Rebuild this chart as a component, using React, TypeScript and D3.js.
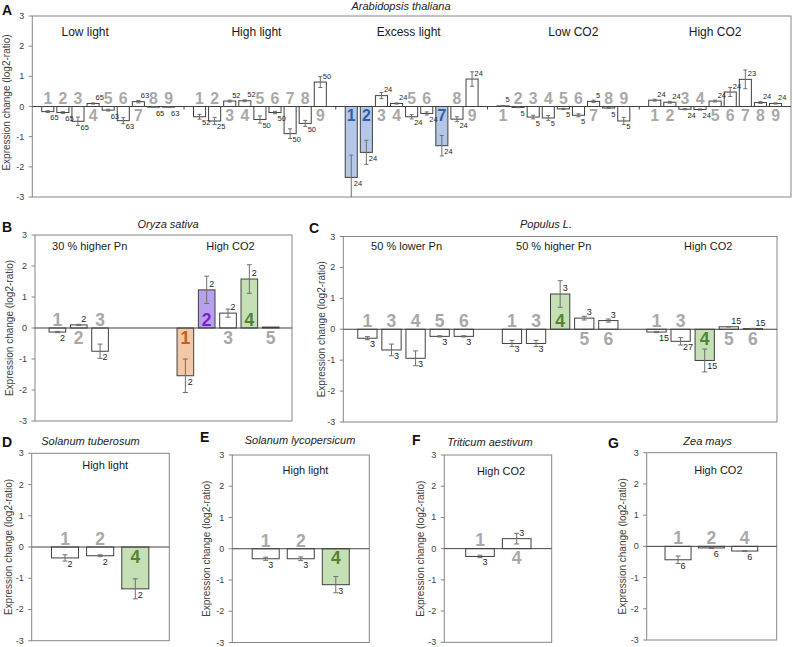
import React from "react";
import * as d3 from "d3";

// ---------------- DATA ----------------
const genesA = ["1", "2", "3", "4", "5", "6", "7", "8", "9"];
const conditionsA = ["Low light", "High light", "Excess light", "Low CO2", "High CO2"];

const aLowLight = [-0.17, -0.2, -0.49, 0.1, -0.12, -0.47, 0.16, -0.02, -0.02];
const aLowLightErr = [0.03, 0.03, 0.14, 0.02, 0.03, 0.1, 0.04, 0.01, 0.01];
const aLowLightN = [65, 65, 65, 65, 63, 63, 63, 65, 63];

const aHighLight = [-0.34, -0.48, 0.18, 0.19, -0.43, -0.2, -0.9, -0.56, 0.81];
const aHighLightErr = [0.08, 0.12, 0.03, 0.03, 0.12, 0.04, 0.16, 0.1, 0.18];
const aHighLightN = [52, 25, 52, 52, 50, 50, 50, 50, 50];

const aExcessLight = [-2.35, -1.52, 0.36, 0.1, -0.34, -0.23, -1.3, -0.42, 0.91];
const aExcessLightErr = [0.74, 0.4, 0.1, 0.02, 0.07, 0.05, 0.34, 0.08, 0.24];
const aExcessLightN = [24, 24, 24, 24, 24, 24, 24, 24, 24];
const aExcessLightColor = ["blue", "blue", "", "", "", "", "blue", "", ""];

const aLowCO2 = [0.02, -0.03, -0.35, -0.38, -0.08, -0.29, 0.17, -0.05, -0.48];
const aLowCO2Err = [0.01, 0.01, 0.06, 0.08, 0.02, 0.05, 0.04, 0.01, 0.12];
const aLowCO2N = [5, 5, 5, 5, 5, 5, 5, 5, 5];

const aHighCO2 = [0.21, 0.14, -0.09, -0.1, 0.18, 0.48, 0.9, 0.13, 0.1];
const aHighCO2Err = [0.03, 0.03, 0.02, 0.02, 0.03, 0.15, 0.31, 0.03, 0.02];
const aHighCO2N = [24, 24, 24, 24, 24, 24, 23, 24, 24];

const bConditions = ["30 % higher Pn", "High CO2"];
const bPnGenes = ["1", "2", "3"];
const bPn = [-0.13, 0.1, -0.75];
const bPnErr = [0.02, 0.02, 0.23];
const bPnN = [2, 2, 2];
const bCO2Genes = ["1", "2", "3", "4", "5"];
const bCO2 = [-1.54, 1.23, 0.48, 1.58, 0.03];
const bCO2Err = [0.54, 0.44, 0.13, 0.46, 0];
const bCO2N = [2, 2, 2, 2, null];
const bCO2Color = ["orange", "purple", "", "green", ""];

const cConditions = ["50 % lower Pn", "50 % higher Pn", "High CO2"];
const cGenes = ["1", "3", "4", "5", "6"];
const cLowerPn = [-0.29, -0.67, -0.94, -0.23, -0.23];
const cLowerPnErr = [0.05, 0.19, 0.24, 0.02, 0.02];
const cLowerPnN = [3, 3, 3, 3, 3];
const cHigherPn = [-0.46, -0.46, 1.14, 0.36, 0.28];
const cHigherPnErr = [0.1, 0.1, 0.43, 0.06, 0.05];
const cHigherPnN = [3, 3, 3, 3, 3];
const cHigherPnColor = ["", "", "green", "", ""];
const cHighCO2 = [-0.09, -0.39, -1.01, 0.08, 0.02];
const cHighCO2Err = [0.02, 0.12, 0.37, 0.01, 0.01];
const cHighCO2N = [15, 27, 15, 15, 15];
const cHighCO2Color = ["", "", "green", "", ""];

const dGenes = ["1", "2", "4"];
const dHighLight = [-0.35, -0.28, -1.34];
const dHighLightErr = [0.1, 0.03, 0.32];
const dHighLightN = [2, 2, 2];
const dColor = ["", "", "green"];

const eGenes = ["1", "2", "4"];
const eHighLight = [-0.32, -0.32, -1.15];
const eHighLightErr = [0.05, 0.06, 0.26];
const eHighLightN = [3, 3, 3];
const eColor = ["", "", "green"];

const fGenes = ["1", "4"];
const fHighCO2 = [-0.25, 0.32];
const fHighCO2Err = [0.04, 0.17];
const fHighCO2N = [3, 3];

const gGenes = ["1", "2", "4"];
const gHighCO2 = [-0.43, -0.05, -0.15];
const gHighCO2Err = [0.12, 0.02, 0.01];
const gHighCO2N = [6, 6, 6];

const yTicks = [-3, -2, -1, 0, 1, 2, 3];

// ---------------- STYLE ----------------
const FONT = "'Liberation Sans', Arial, Helvetica, sans-serif";
const palette: Record<string, { fill: string; text: string }> = {
  blue: { fill: "#b4c7e7", text: "#2f5ea8" },
  orange: { fill: "#f4c7a6", text: "#c0601e" },
  purple: { fill: "#b8a0f0", text: "#7a22c8" },
  green: { fill: "#c5e0b4", text: "#548235" },
};
const DIGIT_GRAY = "#a8a8a8";
const BOX = "#868686";
const DARK = "#404040";
const ERR = "#6f6f6f";

type Bar = { gene: string; value: number; err: number; n: number | null; color: string };
type Group = { label: string; bars: Bar[] };

function makeBars(genes: string[], values: number[], errs: number[], ns: (number | null)[], colors?: string[]): Bar[] {
  return genes.map((g, i) => ({ gene: g, value: values[i], err: errs[i], n: ns[i], color: colors ? colors[i] : "" }));
}

const groupsA: Group[] = [
  { label: conditionsA[0], bars: makeBars(genesA, aLowLight, aLowLightErr, aLowLightN) },
  { label: conditionsA[1], bars: makeBars(genesA, aHighLight, aHighLightErr, aHighLightN) },
  { label: conditionsA[2], bars: makeBars(genesA, aExcessLight, aExcessLightErr, aExcessLightN, aExcessLightColor) },
  { label: conditionsA[3], bars: makeBars(genesA, aLowCO2, aLowCO2Err, aLowCO2N) },
  { label: conditionsA[4], bars: makeBars(genesA, aHighCO2, aHighCO2Err, aHighCO2N) },
];
const groupsB: Group[] = [
  { label: bConditions[0], bars: makeBars(bPnGenes, bPn, bPnErr, bPnN) },
  { label: bConditions[1], bars: makeBars(bCO2Genes, bCO2, bCO2Err, bCO2N, bCO2Color) },
];
const groupsC: Group[] = [
  { label: cConditions[0], bars: makeBars(cGenes, cLowerPn, cLowerPnErr, cLowerPnN) },
  { label: cConditions[1], bars: makeBars(cGenes, cHigherPn, cHigherPnErr, cHigherPnN, cHigherPnColor) },
  { label: cConditions[2], bars: makeBars(cGenes, cHighCO2, cHighCO2Err, cHighCO2N, cHighCO2Color) },
];
const groupsD: Group[] = [{ label: "High light", bars: makeBars(dGenes, dHighLight, dHighLightErr, dHighLightN, dColor) }];
const groupsE: Group[] = [{ label: "High light", bars: makeBars(eGenes, eHighLight, eHighLightErr, eHighLightN, eColor) }];
const groupsF: Group[] = [{ label: "High CO2", bars: makeBars(fGenes, fHighCO2, fHighCO2Err, fHighCO2N) }];
const groupsG: Group[] = [{ label: "High CO2", bars: makeBars(gGenes, gHighCO2, gHighCO2Err, gHighCO2N) }];

type Cfg = {
  id: string;
  letter: string;
  letterPos: [number, number];
  title: string;
  titlePos: [number, number];
  x0: number; x1: number; y0: number; y1: number;
  groups: Group[];
  mode: "band" | "linear";
  domain?: [number, number];
  gapSlots?: number;
  barFrac: number;
  digitSize: number;
  nSize: number;
  labelSize: number;
  labelY: number;
  labelOffsets: number[];
  yLabelX: number;
  yLabelDy?: number;
  groupTicks?: boolean;
};

const panels: Cfg[] = [
  {
    id: "A", letter: "A", letterPos: [2, 15], title: "Arabidopsis thaliana", titlePos: [401, 10],
    x0: 32.3, x1: 791, y0: 16, y1: 197, groups: groupsA, mode: "band", barFrac: 0.8,
    digitSize: 15.8, nSize: 7.5, labelSize: 12, labelY: 36, labelOffsets: [-23, -3.5, -3, 10, 0],
    yLabelX: 6, yLabelDy: -4, groupTicks: true,
  },
  {
    id: "B", letter: "B", letterPos: [2, 232], title: "Oryza sativa", titlePos: [168, 228],
    x0: 35, x1: 292, y0: 235, y1: 421, groups: groupsB, mode: "linear", domain: [-1.05, 11], gapSlots: 3,
    barFrac: 0.78, digitSize: 17.5, nSize: 9, labelSize: 11, labelY: 250, labelOffsets: [11, 2.5],
    yLabelX: 9.5,
  },
  {
    id: "C", letter: "C", letterPos: [309, 233], title: "Populus L.", titlePos: [546, 228],
    x0: 343.3, x1: 777, y0: 236.5, y1: 422, groups: groupsC, mode: "linear", domain: [-1, 17], gapSlots: 1,
    barFrac: 0.8, digitSize: 17.5, nSize: 9, labelSize: 11, labelY: 250, labelOffsets: [-9, -6.5, 3.5],
    yLabelX: 321,
  },
  {
    id: "D", letter: "D", letterPos: [2, 447], title: "Solanum tuberosum", titlePos: [90.5, 445],
    x0: 31.7, x1: 169.3, y0: 453.3, y1: 640.7, groups: groupsD, mode: "linear", domain: [-0.947, 2.967], gapSlots: 0,
    barFrac: 0.77, digitSize: 17.5, nSize: 9, labelSize: 11, labelY: 469, labelOffsets: [5],
    yLabelX: 8.5,
  },
  {
    id: "E", letter: "E", letterPos: [200, 442], title: "Solanum lycopersicum", titlePos: [300, 444],
    x0: 232.3, x1: 369.3, y0: 455, y1: 642.5, groups: groupsE, mode: "linear", domain: [-0.953, 2.956], gapSlots: 0,
    barFrac: 0.77, digitSize: 17.5, nSize: 9, labelSize: 11, labelY: 474, labelOffsets: [4.7],
    yLabelX: 206,
  },
  {
    id: "F", letter: "F", letterPos: [412, 445], title: "Triticum aestivum", titlePos: [490, 446],
    x0: 444.3, x1: 551.7, y0: 455, y1: 642.3, groups: groupsF, mode: "linear", domain: [-0.973, 1.954], gapSlots: 0,
    barFrac: 0.78, digitSize: 17.5, nSize: 9, labelSize: 11, labelY: 475, labelOffsets: [2.7],
    yLabelX: 420,
  },
  {
    id: "G", letter: "G", letterPos: [608, 448], title: "Zea mays", titlePos: [707.5, 445],
    x0: 646.7, x1: 776.7, y0: 452.7, y1: 640, groups: groupsG, mode: "linear", domain: [-0.94, 2.96], gapSlots: 0,
    barFrac: 0.78, digitSize: 17.5, nSize: 9, labelSize: 11, labelY: 474, labelOffsets: [7],
    yLabelX: 622,
  },
];

type Placed = { cx: number; w: number; bar: Bar };

function Panel({ cfg }: { cfg: Cfg }) {
  const y = d3.scaleLinear().domain([-3, 3]).range([cfg.y1, cfg.y0]);
  const y0 = y(0);
  const placed: Placed[] = [];
  const groupCenters: number[] = [];
  const boundaries: number[] = [];

  if (cfg.mode === "band") {
    const outer = d3.scaleBand<string>().domain(cfg.groups.map((g) => g.label)).range([cfg.x0, cfg.x1]).padding(0);
    const inner = d3.scaleBand<string>().domain(genesA).range([0, outer.bandwidth()]).paddingInner(1 - cfg.barFrac).paddingOuter(0.625);
    cfg.groups.forEach((g, gi) => {
      const gx = outer(g.label)!;
      groupCenters.push(gx + outer.bandwidth() / 2);
      if (gi > 0) boundaries.push(gx);
      g.bars.forEach((b) => {
        placed.push({ cx: gx + inner(b.gene)! + inner.bandwidth() / 2, w: inner.bandwidth(), bar: b });
      });
    });
  } else {
    const x = d3.scaleLinear().domain(cfg.domain!).range([cfg.x0, cfg.x1]);
    const w = (x(1) - x(0)) * cfg.barFrac;
    let slot = 0;
    cfg.groups.forEach((g) => {
      const start = slot;
      g.bars.forEach((b) => {
        placed.push({ cx: x(slot), w, bar: b });
        slot++;
      });
      groupCenters.push(x((start + slot - 1) / 2));
      slot += cfg.gapSlots!;
    });
  }

  const capHalf = cfg.mode === "band" ? 2 : 2.5;
  const cap = 0.716 * cfg.digitSize;
  const clipId = "clip" + cfg.id;

  return (
    <g>
      <defs>
        <clipPath id={clipId}>
          <rect x={cfg.x0} y={cfg.y0} width={cfg.x1 - cfg.x0} height={cfg.y1 - cfg.y0} />
        </clipPath>
      </defs>
      {/* letter & title */}
      <text x={cfg.letterPos[0]} y={cfg.letterPos[1]} fontFamily={FONT} fontWeight="bold" fontSize={14} fill="#111">
        {cfg.letter}
      </text>
      <text x={cfg.titlePos[0]} y={cfg.titlePos[1]} fontFamily={FONT} fontStyle="italic" fontSize={11} fill="#222" textAnchor="middle">
        {cfg.title}
      </text>
      {/* box */}
      <rect x={cfg.x0} y={cfg.y0} width={cfg.x1 - cfg.x0} height={cfg.y1 - cfg.y0} fill="none" stroke={BOX} strokeWidth={1} />
      {/* y ticks */}
      {yTicks.map((t) => (
        <g key={t}>
          <line x1={cfg.x0 - 3.5} x2={cfg.x0} y1={y(t)} y2={y(t)} stroke={BOX} />
          <text x={cfg.x0 - 8} y={y(t)} fontFamily={FONT} fontSize={9} fill={DARK} textAnchor="end" dominantBaseline="central">
            {String(t)}
          </text>
        </g>
      ))}
      <text
        transform={`translate(${cfg.yLabelX},${(cfg.y0 + cfg.y1) / 2 + (cfg.yLabelDy || 0)}) rotate(-90)`}
        fontFamily={FONT}
        fontSize={10}
        fill={DARK}
        textAnchor="middle"
        dominantBaseline="central"
      >
        Expression change (log2-ratio)
      </text>
      {/* group labels */}
      {cfg.groups.map((g, gi) => (
        <text key={g.label} x={groupCenters[gi] + (cfg.labelOffsets[gi] || 0)} y={cfg.labelY} fontFamily={FONT} fontSize={cfg.labelSize} fill="#1a1a1a" textAnchor="middle">
          {g.label}
        </text>
      ))}
      {/* bars */}
      {placed.map((p, i) => {
        const v = p.bar.value;
        const top = Math.min(y(v), y0);
        const h = Math.abs(y(v) - y0);
        const fill = p.bar.color ? palette[p.bar.color].fill : "#fff";
        return <rect key={"b" + i} x={p.cx - p.w / 2} y={top} width={p.w} height={Math.max(h, 0.6)} fill={fill} stroke={DARK} strokeWidth={1} />;
      })}
      {/* zero line */}
      <line x1={cfg.x0} x2={cfg.x1} y1={y0} y2={y0} stroke={DARK} strokeWidth={1} />
      {cfg.groupTicks && boundaries.map((bx, i) => <line key={"gt" + i} x1={bx} x2={bx} y1={y0} y2={y0 + 3} stroke={DARK} />)}
      {/* error bars */}
      <g clipPath={`url(#${clipId})`}>
        {placed.map((p, i) => {
          const { value: v, err } = p.bar;
          if (!err) return null;
          const a = y(v + err);
          const b = y(v - err);
          return (
            <g key={"e" + i} stroke={ERR} strokeWidth={1}>
              <line x1={p.cx} x2={p.cx} y1={a} y2={b} />
              <line x1={p.cx - capHalf} x2={p.cx + capHalf} y1={a} y2={a} />
              <line x1={p.cx - capHalf} x2={p.cx + capHalf} y1={b} y2={b} />
            </g>
          );
        })}
      </g>
      {/* n labels */}
      {placed.map((p, i) => {
        const { value: v, n } = p.bar;
        if (n == null) return null;
        const ly = v < 0 ? y(v) + 6 : y(v) - 6;
        return (
          <text key={"n" + i} x={p.cx + 2.5} y={ly} fontFamily={FONT} fontSize={cfg.nSize} fill="#262626" dominantBaseline="central">
            {n}
          </text>
        );
      })}
      {/* gene digits */}
      {placed.map((p, i) => {
        const { value: v, color, gene } = p.bar;
        let above: boolean;
        if (color) above = v >= 0;
        else above = v < 0;
        const base = above ? y0 - 2.2 : y0 + 3 + cap;
        return (
          <text
            key={"d" + i}
            x={p.cx}
            y={base}
            fontFamily={FONT}
            fontWeight="bold"
            fontSize={cfg.digitSize}
            fill={color ? palette[color].text : DIGIT_GRAY}
            textAnchor="middle"
          >
            {gene}
          </text>
        );
      })}
    </g>
  );
}

export default function App() {
  return (
    <svg
      width={793}
      height={647}
      viewBox="0 0 793 647"
      style={{ position: "absolute", left: 0, top: 0, background: "#fff" }}
    >
      <rect x={0} y={0} width={793} height={647} fill="#fff" />
      {panels.map((cfg) => (
        <Panel key={cfg.id} cfg={cfg} />
      ))}
    </svg>
  );
}
